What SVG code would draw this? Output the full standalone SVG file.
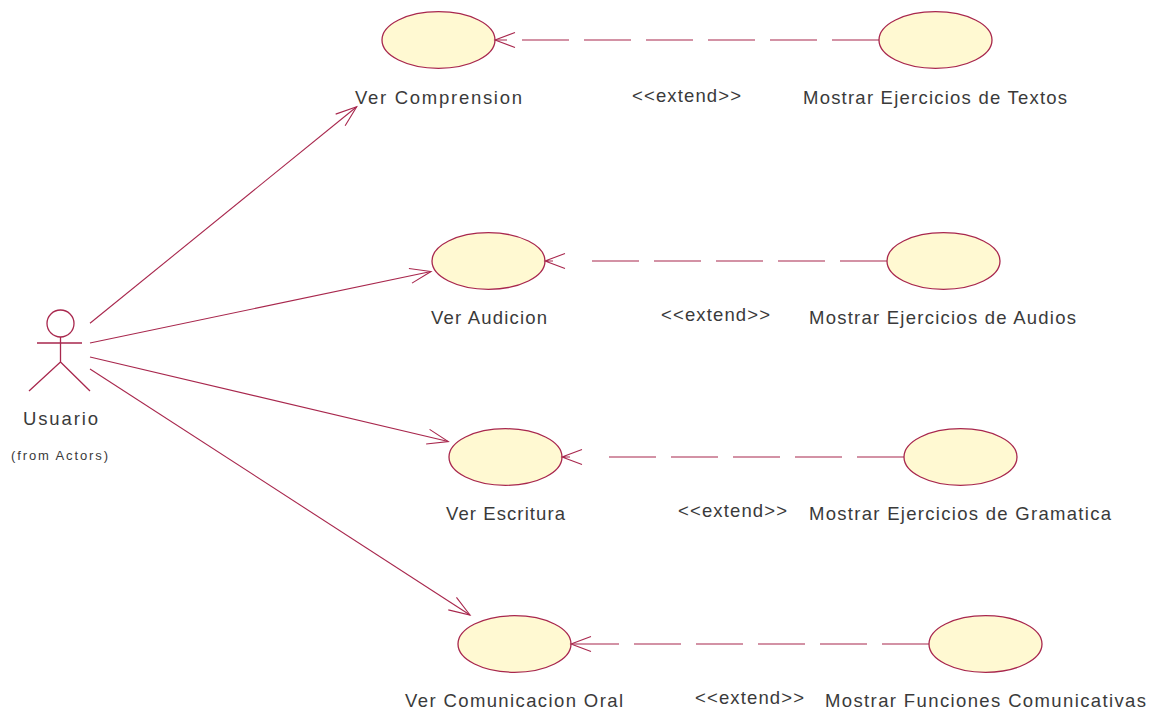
<svg xmlns="http://www.w3.org/2000/svg" width="1157" height="713" viewBox="0 0 1157 713">
  <style>
    .uc { fill: #FFF9D2; stroke: #A8274D; stroke-width: 1.3; }
    .actor { fill: none; stroke: #A8274D; stroke-width: 1.3; }
    .assoc { fill: none; stroke: #A8274D; stroke-width: 1.1; marker-end: url(#open); }
    .dep { fill: none; stroke: #A8274D; stroke-width: 1.1; stroke-dasharray: 47 15; }
    .head { fill: none; stroke: #A8274D; stroke-width: 1.1; }
    text { font-family: "Liberation Sans", Arial, sans-serif; font-size: 18.5px; fill: #3a3a3a; }
    .small { font-size: 13px; }
  </style>
  <defs>
    <marker id="open" markerUnits="userSpaceOnUse" markerWidth="40" markerHeight="40" refX="0" refY="0" orient="auto" viewBox="-30 -20 40 40" overflow="visible">
      <path d="M -21 -7.5 L 0 0 L -21 7.5" fill="none" stroke="#A8274D" stroke-width="1.1"/>
    </marker>
  </defs>

  <rect width="1157" height="713" fill="#ffffff"/>

  <!-- actor -->
  <g id="usuario">
    <circle class="actor" cx="60.5" cy="323.5" r="13.5"/>
    <path class="actor" d="M37 343 H82 M60.5 337 V362 L29 391 M60.5 362 L90 391"/>
    <text x="23" y="425" textLength="75" lengthAdjust="spacing">Usuario</text>
    <text class="small" x="11" y="460" textLength="97" lengthAdjust="spacing">(from Actors)</text>
  </g>

  <!-- use cases -->
  <g id="ver-comprension">
    <ellipse class="uc" cx="438.5" cy="40" rx="56.5" ry="28.3"/>
    <text x="355" y="104" textLength="167" lengthAdjust="spacing">Ver Comprension</text>
  </g>
  <g id="mostrar-textos">
    <ellipse class="uc" cx="935.5" cy="40" rx="56.5" ry="28.3"/>
    <text x="803" y="104" textLength="264" lengthAdjust="spacing">Mostrar Ejercicios de Textos</text>
  </g>
  <g id="ver-audicion">
    <ellipse class="uc" cx="488.5" cy="261" rx="56.5" ry="28.3"/>
    <text x="431" y="324" textLength="116" lengthAdjust="spacing">Ver Audicion</text>
  </g>
  <g id="mostrar-audios">
    <ellipse class="uc" cx="943.5" cy="261" rx="56.5" ry="28.3"/>
    <text x="809" y="324" textLength="267" lengthAdjust="spacing">Mostrar Ejercicios de Audios</text>
  </g>
  <g id="ver-escritura">
    <ellipse class="uc" cx="505.5" cy="457" rx="56.5" ry="28.3"/>
    <text x="446" y="520" textLength="119" lengthAdjust="spacing">Ver Escritura</text>
  </g>
  <g id="mostrar-gramatica">
    <ellipse class="uc" cx="960.5" cy="457" rx="56.5" ry="28.3"/>
    <text x="809" y="520" textLength="302" lengthAdjust="spacing">Mostrar Ejercicios de Gramatica</text>
  </g>
  <g id="ver-comunicacion-oral">
    <ellipse class="uc" cx="514.5" cy="644" rx="56.5" ry="28.3"/>
    <text x="405" y="707" textLength="218" lengthAdjust="spacing">Ver Comunicacion Oral</text>
  </g>
  <g id="mostrar-funciones">
    <ellipse class="uc" cx="985.5" cy="644" rx="56.5" ry="28.3"/>
    <text x="825" y="707" textLength="321" lengthAdjust="spacing">Mostrar Funciones Comunicativas</text>
  </g>

  <!-- connectors -->
  <g id="connectors">
    <!-- associations from the actor -->
    <path class="assoc" d="M90 323.3 L356.7 106.7"/>
    <path class="assoc" d="M90 343 L431 271.5"/>
    <path class="assoc" d="M90 357 L448.3 441.5"/>
    <path class="assoc" d="M90 369 L470 615"/>

    <!-- extend dependencies -->
    <path class="dep" d="M879 40 H495"/>
    <path class="head" d="M515 32.5 L495 40 L515 47.5"/>
    <text x="632" y="102" textLength="109" lengthAdjust="spacing">&lt;&lt;extend&gt;&gt;</text>

    <path class="dep" d="M887 261 H592"/>
    <path class="head" d="M565 253.5 L545 261 L565 268.5 M545 261 H553"/>
    <text x="661" y="321" textLength="109" lengthAdjust="spacing">&lt;&lt;extend&gt;&gt;</text>

    <path class="dep" d="M904 457 H609"/>
    <path class="head" d="M582 449.5 L562 457 L582 464.5 M562 457 H570"/>
    <text x="678" y="517" textLength="109" lengthAdjust="spacing">&lt;&lt;extend&gt;&gt;</text>

    <path class="dep" d="M929 644 H571"/>
    <path class="head" d="M591 636.5 L571 644 L591 651.5"/>
    <text x="695" y="704" textLength="109" lengthAdjust="spacing">&lt;&lt;extend&gt;&gt;</text>
  </g>
</svg>
